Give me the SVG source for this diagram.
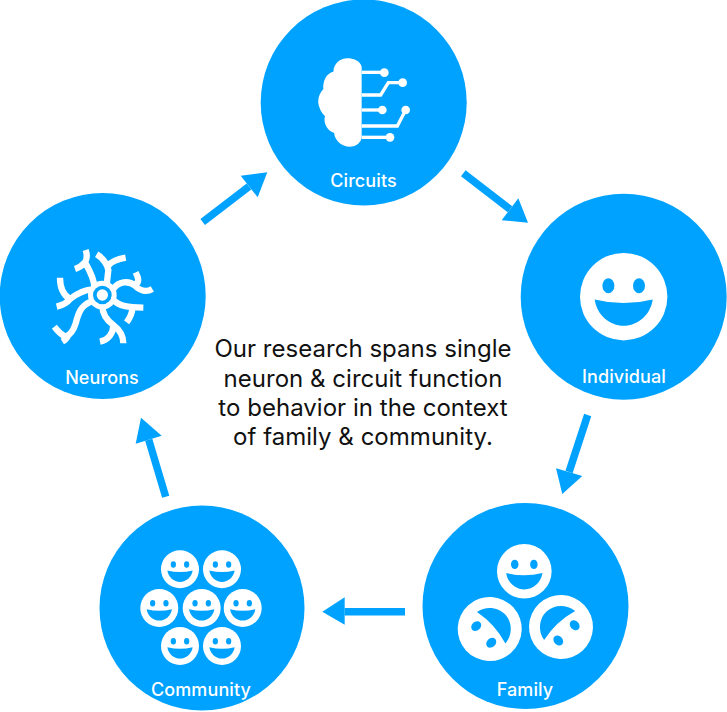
<svg xmlns="http://www.w3.org/2000/svg" width="727" height="712" viewBox="0 0 727 712">
<style>
.disc{fill:#00a2ff}
.lbl{font-family:Inter,"Liberation Sans",sans-serif;font-size:18px;font-weight:500;fill:#fff;text-anchor:middle;letter-spacing:.1px}
.body{font-family:Inter,"Liberation Sans",sans-serif;font-size:24px;fill:#111;text-anchor:middle;letter-spacing:.03px}
.wire{fill:none;stroke:#fff;stroke-width:10}
.neu{fill:none;stroke:#fff;stroke-width:19}
.shaft{fill:none;stroke:#00a2ff;stroke-width:7.5}
.head{fill:#00a2ff}
</style>
<defs>
<g id="smile">
<circle r="43.7" fill="#fff"/>
<ellipse cx="-15.3" cy="-11" rx="6" ry="7.5" fill="#00a2ff"/>
<ellipse cx="15.3" cy="-11" rx="6" ry="7.5" fill="#00a2ff"/>
<path d="M-29,2.7Q0,10 29,2.7C27,18 14,29 0,29C-14,29 -27,18 -29,2.7Z" fill="#00a2ff"/>
</g>
</defs>
<rect width="727" height="712" fill="#fff"/>
<g id="connectors">
<path class="shaft" d="M202.700,222L249,186.500"/><polygon class="head" points="267.300,172.300 240.700,175.700 257.700,197.300"/>
<path class="shaft" d="M463.300,173.300L510,209.300"/><polygon class="head" points="528,222.700 518.300,198.300 501.700,220.300"/>
<path class="shaft" d="M587.700,415L569,472"/><polygon class="head" points="562.300,494 556,468.300 582.300,476"/>
<path class="shaft" d="M405,611.700L344.700,611.700"/><polygon class="head" points="322.300,611.700 344.700,597.300 344.700,624.700"/>
<path class="shaft" d="M165.700,496.700L148.700,439.700"/><polygon class="head" points="141,417.700 161.700,435.700 135.700,443.700"/>
</g>
<g id="circuits">
<circle class="disc" cx="363.700" cy="102.500" r="103"/>
<g transform="translate(260,0) scale(.33333)">
<path fill="#fff" d="M305,200C300,182 280,175 262,175C240,175 222,190 220,215C200,220 188,240 190,268C178,280 170,300 178,322C182,335 190,345 195,348C188,370 205,395 222,398C225,425 250,440 268,440C290,440 305,425 305,410Z"/>
<g class="wire">
<path d="M305,217H372"/>
<path d="M305,285H362L385,248H428"/>
<path d="M305,330H367"/>
<path d="M305,378H412L437,330"/>
<path d="M305,412H390"/>
</g>
<g fill="#fff">
<circle cx="373" cy="218" r="13"/><circle cx="428" cy="248" r="13"/><circle cx="367" cy="330" r="13"/><circle cx="437" cy="330" r="13"/><circle cx="390" cy="412" r="13"/>
</g>
</g>
<text class="lbl" x="363.500" y="186.700">Circuits</text>
</g>
<g id="individual">
<circle class="disc" cx="623.700" cy="296.700" r="103"/>
<use href="#smile" transform="translate(623.700,296.700)"/>
<text class="lbl" x="624" y="382.700">Individual</text>
</g>
<g id="family">
<circle class="disc" cx="525.500" cy="606" r="103"/>
<use href="#smile" transform="translate(524.300,571.300) scale(.625)"/>
<use href="#smile" transform="translate(489.700,629) rotate(-132) scale(.732)"/>
<use href="#smile" transform="translate(561,627) rotate(137) scale(.732)"/>
<text class="lbl" x="525" y="695.700">Family</text>
</g>
<g id="community">
<circle class="disc" cx="202" cy="608" r="102.500"/>
<use href="#smile" transform="translate(180,569.300) scale(.435)"/>
<use href="#smile" transform="translate(222,569.300) scale(.435)"/>
<use href="#smile" transform="translate(159.300,608) scale(.435)"/>
<use href="#smile" transform="translate(201.700,608) scale(.435)"/>
<use href="#smile" transform="translate(242.700,608) scale(.435)"/>
<use href="#smile" transform="translate(180,646) scale(.435)"/>
<use href="#smile" transform="translate(222,646) scale(.435)"/>
<text class="lbl" x="201" y="695.700">Community</text>
</g>
<g id="neurons">
<circle class="disc" cx="102.700" cy="296" r="103"/>
<g transform="translate(45,245) scale(.33333)">
<g class="neu">
<path d="M148,125C146,95 130,70 120,52M122,15C127,30 126,42 120,52M90,72C102,68 112,62 120,52"/>
<path d="M185,120L190,75C188,60 175,40 155,28M190,62C200,48 220,42 242,38"/>
<path d="M205,132C220,110 250,105 270,122C285,138 305,142 322,132M270,122C285,110 280,98 272,82"/>
<path d="M205,165C225,185 250,187 295,188M262,188C262,205 255,218 245,232"/>
<path d="M172,182C172,205 185,225 205,240C225,255 235,275 235,295M205,240C205,265 190,285 165,290"/>
<path d="M138,170C108,180 100,205 92,235C85,258 75,270 62,275M28,245C40,260 50,270 62,275M52,290C60,285 66,280 70,270"/>
<path d="M142,133C115,135 90,150 75,162C65,175 55,180 35,185M75,162C55,150 45,130 45,98"/>
</g>
<circle cx="172" cy="150" r="43" fill="#fff"/>
<circle cx="172" cy="150" r="28" fill="#00a2ff"/>
<circle cx="172" cy="150" r="17" fill="#fff"/>
</g>
<text class="lbl" x="102" y="383.700">Neurons</text>
</g>
<g id="caption">
<text class="body" x="363" y="357.300">Our research spans single</text>
<text class="body" x="363" y="386.700">neuron &amp; circuit function</text>
<text class="body" x="363" y="416">to behavior in the context</text>
<text class="body" x="363" y="445">of family &amp; community.</text>
</g>
</svg>
